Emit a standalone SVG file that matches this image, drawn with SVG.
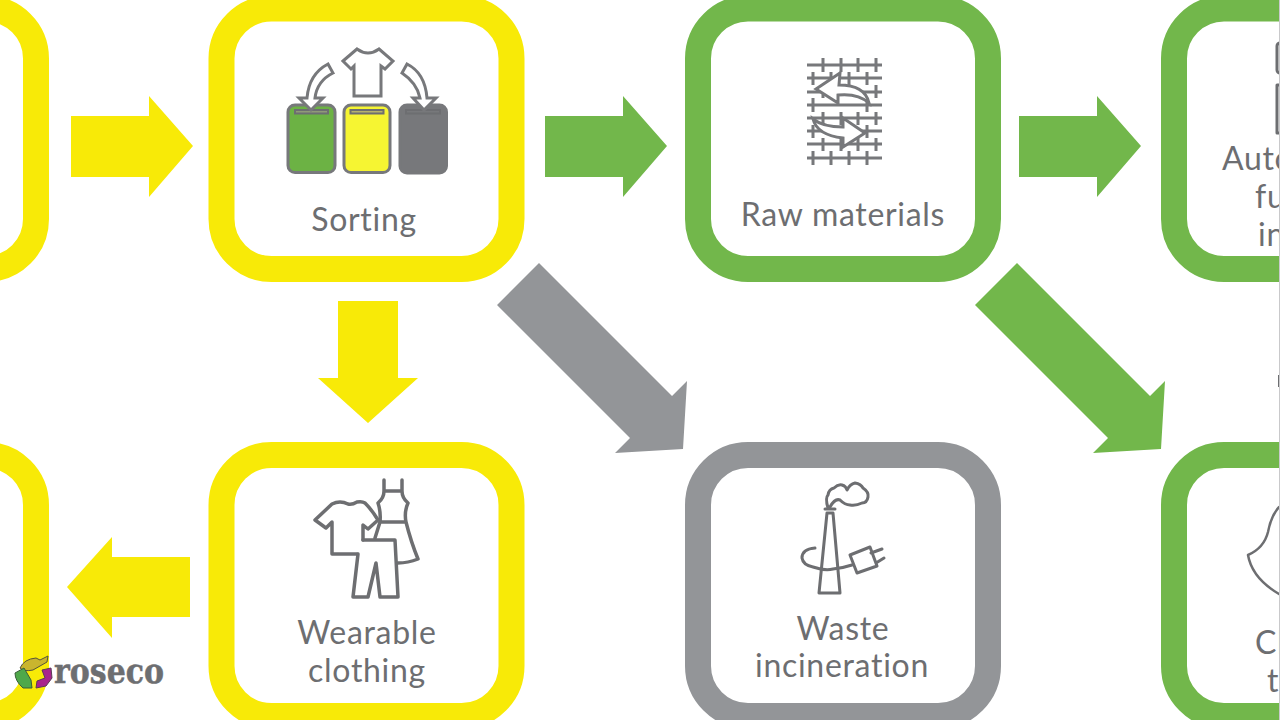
<svg xmlns="http://www.w3.org/2000/svg" width="1280" height="720" viewBox="0 0 1280 720">
<style>
.box{fill:#fff;stroke-width:26}
.y{stroke:#f8ea07}.g{stroke:#72b74b}.k{stroke:#939598}
.ay{fill:#f8ea07}.ag{fill:#72b74b}.ak{fill:#939598}
.t{font-family:"Lato","Open Sans",sans-serif;font-size:32px;letter-spacing:.7px;fill:#6d6e71;text-anchor:middle}
.s{text-anchor:start}
.i{fill:none;stroke:#6d6e71;stroke-width:3;stroke-linejoin:round;stroke-linecap:round}
.w{fill:#fff;stroke:#77787b;stroke-width:3;stroke-linejoin:miter}
.b{stroke:#77787b;stroke-width:3}
.sl{stroke:#6d6e71;stroke-width:2}
.m{fill:none;stroke:#77787b;stroke-width:3}
</style>
<rect width="1280" height="720" fill="#fff"/>
<g id="connectors">
<polygon class="ay" points="71,116 149,116 149,96 193,146 149,197 149,177 71,177"/>
<polygon class="ag" points="545,116 623,116 623,96 667,146 623,197 623,177 545,177"/>
<polygon class="ag" points="1019,116 1097,116 1097,96 1141,146 1097,197 1097,177 1019,177"/>
<polygon class="ay" points="338,301 398,301 398,378 418,378 368,423 318,378 338,378"/>
<polygon class="ay" points="190,557 112,557 112,537 67,587 112,638 112,617 190,617"/>
<polygon class="ak" points="539,263 672,396 687,381 683,449 615,453 630,438 497,305"/>
<polygon class="ag" points="1017,263 1150,396 1165,381 1161,449 1093,453 1108,438 975,305"/>
</g>
<g id="node-left-top"><rect class="box y" x="-254" y="8.500" width="290" height="260.500" rx="50"/></g>
<g id="node-sorting">
<rect class="box y" x="221.500" y="8.500" width="290" height="260.500" rx="50"/>
<rect class="b" x="288" y="105" width="47" height="67.500" rx="7" fill="#6cb244"/>
<rect class="b" x="344" y="105" width="46" height="67.500" rx="7" fill="#f6f532"/>
<rect class="b" x="400" y="105" width="46.500" height="68" rx="7" fill="#77787b"/>
<rect class="sl" x="295" y="110" width="33" height="3.500" fill="#8f9a78"/>
<rect class="sl" x="350.500" y="110" width="33" height="3.500" fill="#b5b26e"/>
<rect class="sl" x="406" y="110" width="34" height="3.500" fill="#77787b"/>
<path class="w" d="M343 61 L357 49 Q368 57 379 49 L393 61 L385 69 L381 66 L381 96 L354 96 L354 66 L351 69 Z"/>
<path class="w" d="M328 64 L333 73 Q317 81 315 98 L323 98 L311 110 L299 98 L307 98 Q309 74 328 64 Z"/>
<path class="w" d="M407 64 Q425 73 427 98 L436 98 L424 110 L413 98 L420 98 Q417 83 402 73 Z"/>
<text class="t" x="364" y="231">Sorting</text>
</g>
<g id="node-raw">
<rect class="box g" x="698" y="8.500" width="290" height="260.500" rx="50"/>
<path class="m" d="M807 65H882M807 78H882M807 92H882M807 105H882M807 118H882M807 131H882M807 144H882M807 158H882M823 58V72M841 58V72M858 58V72M876 58V72M813 72V85M831 72V85M849 72V85M867 72V85M823 85V98M876 85V98M813 98V112M867 98V112M823 112V125M841 112V125M858 112V125M876 112V125M813 125V138M849 125V138M867 125V138M823 138V151M841 138V151M858 138V151M876 138V151M813 151V165M831 151V165M849 151V165M867 151V165"/>
<path class="w" d="M816 89 L840 73 L839 85 Q865 85 869 103 Q858 93 838 95 L838 103 Z"/>
<path class="w" d="M865 133 L843 118 L843 127 Q823 127 813 119 Q817 135 843 138 L843 147 Z"/>
<text class="t" x="843" y="226">Raw materials</text>
</g>
<g id="node-auto">
<rect class="box g" x="1174" y="8.500" width="290" height="260.500" rx="50"/>
<rect class="i" x="1277" y="43" width="10" height="30" rx="3"/>
<rect class="i" x="1277" y="85" width="10" height="48"/>
<text class="t s" x="1222" y="170">Auto</text>
<text class="t s" x="1255" y="208">fu</text>
<text class="t s" x="1258" y="246">in</text>
</g>
<g id="node-left-bottom"><rect class="box y" x="-254" y="455" width="290" height="261" rx="50"/></g>
<g id="node-wearable">
<rect class="box y" x="221.500" y="455" width="290" height="261" rx="50"/>
<g class="i" style="stroke-width:3.500">
<path d="M384 480V491M402 480V491M384 491H402M384 491Q384 498 378 503Q381 512 380 522H406Q404 512 408 503Q402 498 402 491M380 522L375 538M406 522Q411 542 418 559Q408 563 398 563"/>
<path d="M357 554 H332 V522 L326 528 L315 520 L332 504 Q340 500 348 504 Q352 505 357 502 Q362 501 365 503 Q372 510 378 520 L368 529 L363 525 V540"/>
<path d="M363 540H395L398 597H380L376 563 L368 597H353L358 554"/>
</g>
<text class="t" x="367" y="644">Wearable</text>
<text class="t" x="367" y="682">clothing</text>
</g>
<g id="node-waste">
<rect class="box k" x="698" y="455" width="290" height="261" rx="50"/>
<g class="i">
<path d="M825 509H835M827 513L819 593H840L833 513H827"/>
<path d="M828 508Q825 498 828 495Q829 489 834 488Q838 484 842 485Q846 486 847 490Q850 484 855 483Q861 484 863 488Q869 492 868 497Q867 503 862 503Q856 506 850 505Q845 505 840 500Q835 498 830 507"/>
<path d="M815 548Q802 549 802 558Q803 565 813 567Q825 571 833 569Q843 568 852 565"/>
<path d="M850 555L870 547L877 566L857 573ZM871 553L882 549M876 563L884 558"/>
</g>
<text class="t" x="843" y="640">Waste</text>
<text class="t" x="842" y="677">incineration</text>
</g>
<g id="node-clothing">
<rect class="box g" x="1174" y="455" width="290" height="261" rx="50"/>
<path class="i" style="stroke-width:2.500" d="M1279 507Q1271 516 1268 532Q1264 548 1248 555Q1252 578 1279 594"/>
<text class="t s" x="1255" y="654">Cl</text>
<text class="t s" x="1267" y="692">t</text>
</g>
<rect id="edge-mark" x="1278" y="375" width="1.500" height="12" fill="#6d6e71"/>
<rect id="edge-strip" x="1279" width="1" height="720" fill="#c9c9cb"/>
<g id="logo">
<path d="M20 668Q24 659 36 658L40 660L48 656L47 662L33 670Q24 672 20 668Z" fill="#c9b52e" stroke="#55533a"/>
<path d="M15 673L24 668L31 680L32 688L23 688Q15 681 15 673Z" fill="#4fa84a" stroke="#3a5c3a"/>
<path d="M42 670L51 668L52 678L46 686L36 688L37 681L45 678Z" fill="#a8248c" stroke="#5a3a55"/>
<text x="54" y="683" textLength="110" lengthAdjust="spacingAndGlyphs" style="font-family:'DejaVu Serif',serif;font-weight:700;font-size:36px;fill:#6d6e71;stroke:#6d6e71;stroke-width:.5">roseco</text>
</g>
</svg>
